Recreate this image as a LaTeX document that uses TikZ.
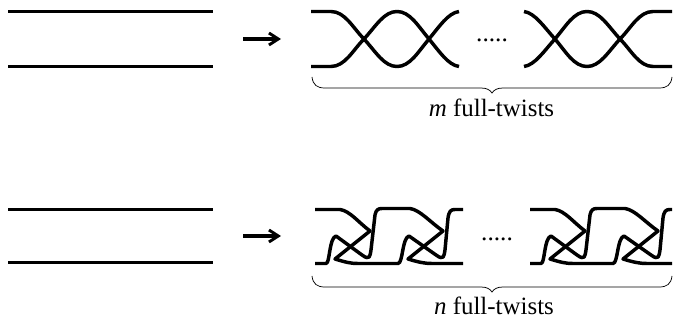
\documentclass[tikz,border=0pt]{standalone}
\usepackage{fontspec}
\setmainfont{Liberation Serif}
\usetikzlibrary{arrows.meta}

\newcommand{\bracefrom}[1]{
	\draw[bracestyle,shift={(0,#1)}] (312,0) .. controls (313,8) and (317,11) .. (325,11) -- (481,11) .. controls (487,11) and (490,13) .. (492,16) .. controls (494,13) and (497,11) .. (503,11) -- (659,11) .. controls (667,11) and (671,8) .. (672,0);
}

\tikzset{
	strand/.style={line width=2.6pt,line join=round},
	bracestyle/.style={line width=0.55pt},
	label/.style={font=\fontsize{18.7}{21}\selectfont,inner sep=0pt},
	dots/.style={font=\fontsize{19}{21}\selectfont,inner sep=0pt}
}

\begin{document}
\begin{tikzpicture}[x=0.75pt,y=-0.75pt]
	\useasboundingbox (0,0) rectangle (676,324);
	% straight pairs on the left, arrows
	\foreach \ya/\yb/\ym in {11.5/66.5/39,209.5/262.5/236} {
		\coordinate (lefta) at (8,\ya);
		\coordinate (righta) at (213,\ya);
		\coordinate (leftb) at (8,\yb);
		\coordinate (rightb) at (213,\yb);
		\coordinate (tail) at (243,\ym);
		\coordinate (head) at (281,\ym);
		\draw[strand] (lefta) -- (righta);
		\draw[strand] (leftb) -- (rightb);
		\draw[strand,-{Straight Barb[length=7pt,width=9pt,line width=2.2pt]}] (tail) -- (head);
	}
	% plain twists
	\draw[strand] (311,11.5) -- (331,11.5) .. controls (345,11.5) and (353,28) .. (364,39) .. controls (376,52) and (384,66.5) .. (397,66.5) .. controls (410,66.5) and (418,52) .. (429,39) .. controls (439,27) and (448,13) .. (459,11.5);
	\draw[strand] (311,66.5) -- (331,66.5) .. controls (345,66.5) and (353,50) .. (364,39) .. controls (376,26) and (384,11.5) .. (397,11.5) .. controls (410,11.5) and (418,26) .. (429,39) .. controls (439,51) and (448,65) .. (459,66.5);
	\draw[strand] (524,11.5) .. controls (535,13) and (544,27) .. (555,39) .. controls (566,52) and (574,66.5) .. (587,66.5) .. controls (600,66.5) and (608,52) .. (620,39) .. controls (631,28) and (639,11.5) .. (653,11.5) -- (672,11.5);
	\draw[strand] (524,66.5) .. controls (535,65) and (544,51) .. (555,39) .. controls (566,26) and (574,11.5) .. (587,11.5) .. controls (600,11.5) and (608,26) .. (620,39) .. controls (631,50) and (639,66.5) .. (653,66.5) -- (672,66.5);
	% clasped twists
	\foreach \dx/\xend in {0/463,215/457} {
		\begin{scope}[xshift=\dx*0.75pt]
			\draw[strand] (315,209.5) -- (340,209.5) .. controls (350,211) and (358,222) .. (370,231) -- (335,259) .. controls (345,262) and (350,263.5) .. (358,263.5) -- (398,263.5) .. controls (403,263.5) and (402,238) .. (409,236) -- (436,255) .. controls (444,261) and (444,256) .. (445,250) -- (448,218) .. controls (449,211) and (451,209.5) .. (455,209.5) -- (\xend,209.5);
			\draw[strand] (315,263.5) -- (326,263.5) .. controls (330,263.5) and (329,238) .. (336,236) -- (362,255) .. controls (370,261) and (370,256) .. (371,250) -- (375,215) .. controls (376,210) and (378,208.5) .. (382,208.5) -- (410,208.5) .. controls (420,210) and (430,222) .. (443,231) -- (408,259) .. controls (418,262) and (424,263.5) .. (432,263.5) -- (\xend,263.5);
		\end{scope}
	}
	% braces
	\bracefrom{77}
	\bracefrom{276}
	\node[dots,anchor=base] (dotsm) at (492,41.5) {.....};
	\node[dots,anchor=base] (dotsn) at (497,241) {.....};
	\node[label,anchor=base] (labelm) at (491.5,116.5) {\textit{m} full-twists};
	\node[label,anchor=base] (labeln) at (494,315) {\textit{n} full-twists};
\end{tikzpicture}
\end{document}
